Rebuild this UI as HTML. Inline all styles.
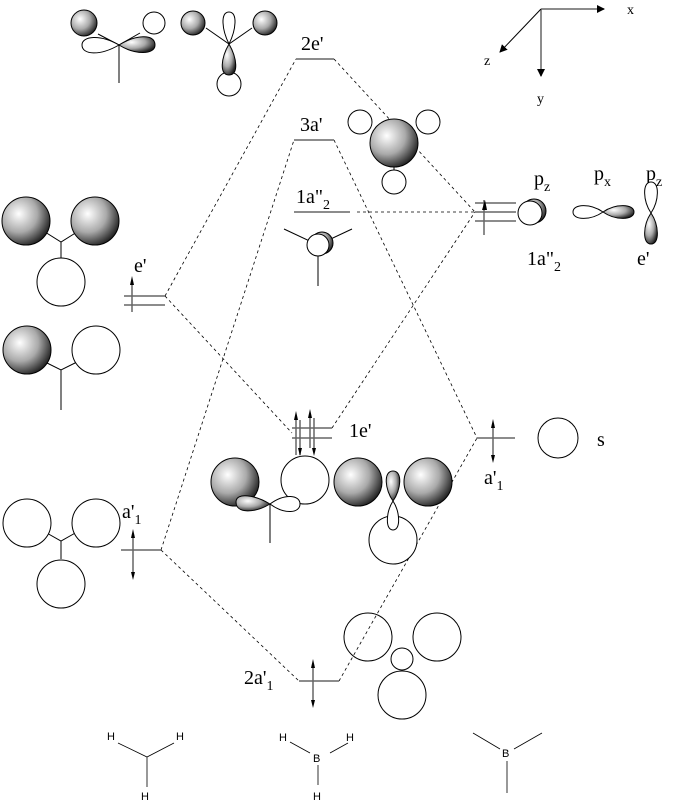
<!DOCTYPE html>
<html><head><meta charset="utf-8"><style>
html,body{margin:0;padding:0;background:#fff}
svg{display:block}
text{font-family:"Liberation Serif",serif;fill:#000}
.s{font-family:"Liberation Sans",sans-serif;font-size:11px}
</style></head><body>
<svg width="674" height="812" viewBox="0 0 674 812" xmlns="http://www.w3.org/2000/svg">
<defs>
<radialGradient id="g" cx="0.35" cy="0.35" r="0.7">
<stop offset="0" stop-color="#fff"/><stop offset="0.55" stop-color="#aaa"/><stop offset="1" stop-color="#222"/>
</radialGradient>
<marker id="ar" markerWidth="8" markerHeight="8" refX="7" refY="4" orient="auto" markerUnits="userSpaceOnUse"><path d="M0,0L8,4L0,8z" fill="#000"/></marker>
</defs>
<g fill="none" stroke="#000" stroke-width="0.8" stroke-dasharray="3,3">
<path d="M165,296L296,59M334,59L475,212"/>
<path d="M161,550L294,140M334,140L477,438"/>
<path d="M357,212L475,212"/>
<path d="M165,296L292,433M332,428L475,212"/>
<path d="M161,550L299,681M339,681L477,438"/>
</g>
<g stroke="#666" stroke-width="1.5" fill="none">
<path d="M296,59H334M294,140H334M294,212H350"/>
<path d="M124,296H165M124,305H165M132,284V312"/>
<path d="M121,550H161M133,538V572"/>
<path d="M292,428H332M292,438H332M296,420V455M300,420V455M310,418V448M314,418V448"/>
<path d="M477,438H515M493,428V455"/>
<path d="M475,203H516M475,212H516M475,221H516M484,200V235"/>
<path d="M299,681H339M313,668V700"/>
</g>
<g fill="#000">
<path d="M130,285l2,-9l2,9z"/><path d="M131,538l2,-9l2,9z"/><path d="M135,572l-2,8l-2,-8z"/>
<path d="M294,420l2,-9l2,9z"/><path d="M298,448l2,8l2,-8z"/><path d="M308,418l2,-9l2,9z"/><path d="M312,448l2,8l2,-8z"/>
<path d="M491,428l2,-9l2,9z"/><path d="M495,455l-2,8l-2,-8z"/>
<path d="M482,210l3,-10l2,10z"/>
<path d="M311,668l2,-9l2,9z"/><path d="M315,700l-2,8l-2,-8z"/>
</g>
<g style="font-size:20px">
<text x="301" y="50">2e'</text><text x="300" y="131">3a'</text>
<text x="296" y="203">1a"<tspan style="font-size:14px" dy="6">2</tspan></text>
<text x="134" y="272">e'</text>
<text x="122" y="518">a'<tspan style="font-size:14px" dy="6">1</tspan></text>
<text x="349" y="437">1e'</text>
<text x="484" y="484">a'<tspan style="font-size:14px" dy="6">1</tspan></text>
<text x="244" y="684">2a'<tspan style="font-size:14px" dy="6">1</tspan></text>
<text x="534" y="185">p<tspan style="font-size:14px" dy="6">z</tspan></text>
<text x="594" y="180">p<tspan style="font-size:14px" dy="6">x</tspan></text>
<text x="646" y="180">p<tspan style="font-size:14px" dy="6">z</tspan></text>
<text x="527" y="265">1a"<tspan style="font-size:14px" dy="6">2</tspan></text>
<text x="637" y="265">e'</text>
<text x="597" y="446">s</text>
</g>
<g stroke="#000" stroke-width="1" fill="none">
<path d="M541,9H604" stroke="#666" stroke-width="1.5" marker-end="url(#ar)"/>
<path d="M541,9V76" stroke="#666" stroke-width="1.5" marker-end="url(#ar)"/>
<path d="M541,9L500,52" marker-end="url(#ar)"/>
</g>
<g style="font-size:14px"><text x="627" y="14">x</text><text x="484" y="65">z</text><text x="537" y="103">y</text></g>
<g stroke="#000" stroke-width="1">
<path d="M119,45V83M98,34L119,45L140,33" fill="none"/>
<path d="M119,45C100,34 82,36 82,45C82,55 100,56 119,45Z" fill="#fff"/>
<path d="M119,45C135,35 155,33 155,45C155,55 135,55 119,45Z" fill="url(#g)"/>
<circle cx="84" cy="23" r="13" fill="url(#g)"/>
<circle cx="154" cy="23" r="11" fill="#fff"/>
<path d="M206,28L229,44L252,28" fill="none"/>
<circle cx="193" cy="23" r="12" fill="url(#g)"/>
<circle cx="265" cy="23" r="12" fill="url(#g)"/>
<path d="M229,44C222,30 220,12 229,12C238,12 236,30 229,44Z" fill="#fff"/>
<circle cx="229" cy="84" r="12" fill="#fff"/>
<path d="M229,44C221,58 219,75 229,75C239,75 237,58 229,44Z" fill="url(#g)"/>
<path d="M45,232L61,242L77,232M61,242V258" fill="none"/>
<circle cx="26" cy="221" r="24" fill="url(#g)"/>
<circle cx="95" cy="221" r="24" fill="url(#g)"/>
<circle cx="61" cy="282" r="24" fill="#fff"/>
<path d="M45,362L61,370L77,362M61,370V410" fill="none"/>
<circle cx="27" cy="350" r="24" fill="url(#g)"/>
<circle cx="96" cy="350" r="24" fill="#fff"/>
<path d="M45,532L61,541L77,532M61,541V559" fill="none"/>
<circle cx="27" cy="523" r="24" fill="#fff"/>
<circle cx="96" cy="523" r="24" fill="#fff"/>
<circle cx="61" cy="584" r="24" fill="#fff"/>
<path d="M394,150V170" fill="none"/>
<circle cx="360" cy="122" r="12" fill="#fff"/>
<circle cx="428" cy="122" r="12" fill="#fff"/>
<circle cx="394" cy="182" r="12" fill="#fff"/>
<circle cx="394" cy="143" r="24" fill="url(#g)"/>
<path d="M284,229L318,245L352,229M318,245V286" fill="none"/>
<circle cx="322" cy="243" r="11" fill="url(#g)"/>
<circle cx="318" cy="245" r="11" fill="#fff"/>
<path d="M270,504V543" fill="none"/>
<circle cx="235" cy="482" r="24" fill="url(#g)"/>
<circle cx="305" cy="480" r="24" fill="#fff"/>
<path d="M270,504C285,493 300,495 300,504C300,513 285,515 270,504Z" fill="#fff"/>
<path d="M270,504C255,495 236,492 236,502C236,514 255,513 270,504Z" fill="url(#g)"/>
<circle cx="393" cy="540" r="24" fill="#fff"/>
<path d="M393,501C386,512 385,530 393,530C401,530 400,512 393,501Z" fill="#fff"/>
<circle cx="358" cy="482" r="24" fill="url(#g)"/>
<circle cx="428" cy="482" r="24" fill="url(#g)"/>
<path d="M393,501C385,490 383,471 393,471C403,471 401,490 393,501Z" fill="url(#g)"/>
<circle cx="368" cy="637" r="24" fill="none"/>
<circle cx="437" cy="637" r="24" fill="none"/>
<circle cx="402" cy="659" r="11" fill="none"/>
<circle cx="402" cy="695" r="24" fill="none"/>
<circle cx="558" cy="438" r="20" fill="#fff"/>
<circle cx="534" cy="211" r="12" fill="url(#g)"/>
<circle cx="530" cy="213" r="12" fill="#fff"/>
<path d="M603,212C590,203 573,204 573,212C573,220 590,221 603,212Z" fill="#fff"/>
<path d="M603,212C616,203 634,204 634,212C634,220 616,221 603,212Z" fill="url(#g)"/>
<path d="M651,213C643,201 642,182 651,182C660,182 659,201 651,213Z" fill="#fff"/>
<path d="M651,213C643,225 642,244 651,244C660,244 659,225 651,213Z" fill="url(#g)"/>
<path d="M118,743L147,757L174,743M147,757V787" fill="none" stroke-width="0.8"/>
<path d="M290,742L310,753M330,753L348,743M318,765V785" fill="none" stroke-width="0.8"/>
<path d="M473,733L500,749M514,749L542,733M507,761V793" fill="none" stroke-width="0.8"/>
</g>
<g>
<text x="107" y="740" class="s">H</text><text x="176" y="740" class="s">H</text><text x="141" y="800" class="s">H</text>
<text x="279" y="741" class="s">H</text><text x="346" y="741" class="s">H</text><text x="313" y="762" class="s">B</text><text x="313" y="800" class="s">H</text>
<text x="502" y="757" class="s">B</text>
</g>
</svg>
</body></html>
